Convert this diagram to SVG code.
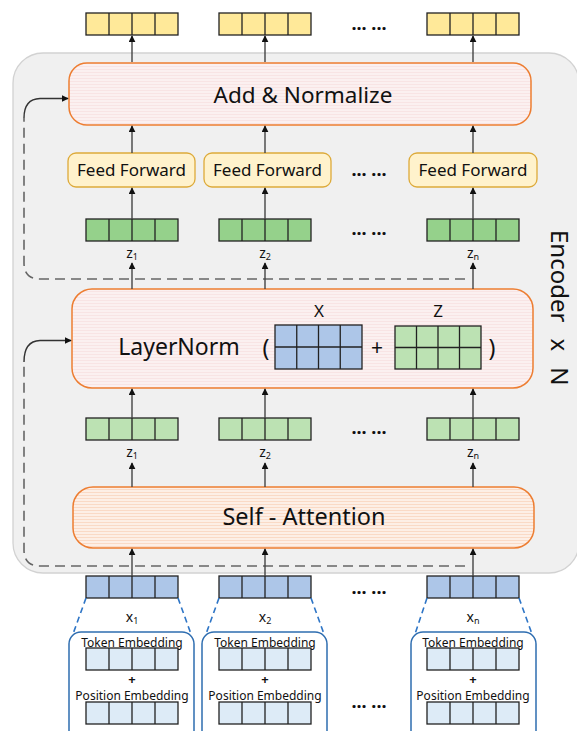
<svg xmlns="http://www.w3.org/2000/svg" width="577" height="731" viewBox="0 0 577 731">
<style>
  text { font-family: "Noto Sans", "Open Sans", "DejaVu Sans", sans-serif; fill: #111; }
  .y { fill: #FFE999; }
  .dg { fill: #95D18B; }
  .lg { fill: #BCE2B3; }
  .bl { fill: #ADC6E8; }
  .lb { fill: #DDEBF7; }
  .cell { stroke: #222; stroke-width: 1.3; }
  .arr { stroke: #444; stroke-width: 1.4; fill: none; marker-end: url(#ah); }
  .dash { stroke: #666; stroke-width: 1.6; fill: none; stroke-dasharray: 10 6; }
  .solid { stroke: #333; stroke-width: 1.4; fill: none; marker-end: url(#ah); }
  .bdash { stroke: #2E75C6; stroke-width: 1.6; fill: none; stroke-dasharray: 6 4; }
  .emb { fill: #fff; stroke: #2E6DB0; stroke-width: 1.5; }
  .ff { fill: #FFF2CC; stroke: #DDAA3A; stroke-width: 1.3; }
  .dots { font-size: 18px; font-weight: bold; text-anchor: middle; }
  .lbl { font-size: 14px; text-anchor: middle; }
  .sub { font-size: 9px; }
  .embt { font-size: 12px; text-anchor: middle; }
  .plus { font-size: 13px; font-weight: bold; text-anchor: middle; }
</style>
<defs>
  <marker id="ah" viewBox="0 0 10 10" refX="9" refY="5" markerWidth="7" markerHeight="7" markerUnits="userSpaceOnUse" orient="auto">
    <path d="M0,0 L10,5 L0,10 z" fill="#111"/>
  </marker>
  <pattern id="pink" width="6" height="3" patternUnits="userSpaceOnUse">
    <rect width="6" height="3" fill="#FBF0F0"/>
    <rect width="6" height="1" fill="#F8E4E4"/>
  </pattern>
  <pattern id="peach" width="6" height="3" patternUnits="userSpaceOnUse">
    <rect width="6" height="3" fill="#FDEFE6"/>
    <rect width="6" height="1" fill="#FADAC6"/>
  </pattern>
  <g id="vec4">
    <rect x="0" y="0" width="92" height="22" class="cell"/>
    <path d="M23,0 V22 M46,0 V22 M69,0 V22" stroke="#222" stroke-width="1.3"/>
  </g>
</defs>

<!-- Encoder background -->
<g id="encoder">
  <rect x="13" y="53" width="566" height="520" rx="30" fill="#F0F0F0" stroke="#D2D2D2" stroke-width="1.3"/>
  <text transform="translate(551,230) rotate(90)" font-size="24">Encoder<tspan dx="16">x</tspan><tspan dx="16">N</tspan></text>
</g>

<!-- Top output vectors -->
<g id="out1"><use href="#vec4" x="86" y="13" class="y"/></g>
<g id="out2"><use href="#vec4" x="219" y="13" class="y"/></g>
<g id="out3"><use href="#vec4" x="427" y="13" class="y"/></g>
<text class="dots" x="369" y="30">... ...</text>

<!-- Add & Normalize -->
<g id="addnorm">
  <rect x="69" y="63" width="462" height="62" rx="18" fill="url(#pink)" stroke="#ED7D31" stroke-width="1.5"/>
  <text x="303" y="103" font-size="22.5" text-anchor="middle">Add &amp; Normalize</text>
</g>

<!-- Feed Forward -->
<g id="ff1"><rect x="68" y="153" width="127" height="34" rx="8" class="ff"/><text x="131.5" y="176" font-size="17" text-anchor="middle">Feed Forward</text></g>
<g id="ff2"><rect x="204" y="153" width="127" height="34" rx="8" class="ff"/><text x="267.5" y="176" font-size="17" text-anchor="middle">Feed Forward</text></g>
<g id="ff3"><rect x="409" y="153" width="128" height="34" rx="8" class="ff"/><text x="473" y="176" font-size="17" text-anchor="middle">Feed Forward</text></g>
<text class="dots" x="369" y="176">... ...</text>

<!-- Z vectors (dark green) -->
<g id="zd1"><use href="#vec4" x="86" y="219" class="dg"/><text class="lbl" x="132" y="258">z<tspan class="sub" dy="2">1</tspan></text></g>
<g id="zd2"><use href="#vec4" x="219" y="219" class="dg"/><text class="lbl" x="265" y="258">z<tspan class="sub" dy="2">2</tspan></text></g>
<g id="zd3"><use href="#vec4" x="427" y="219" class="dg"/><text class="lbl" x="473" y="258">z<tspan class="sub" dy="2">n</tspan></text></g>
<text class="dots" x="369" y="235">... ...</text>

<!-- LayerNorm -->
<g id="layernorm">
  <rect x="72" y="289" width="461" height="99" rx="20" fill="url(#pink)" stroke="#ED7D31" stroke-width="1.5"/>
  <text x="179" y="355" font-size="23" text-anchor="middle">LayerNorm</text>
  <text x="266" y="356" font-size="23" text-anchor="middle">(</text>
  <text x="319" y="317" font-size="17" text-anchor="middle">X</text>
  <rect x="275" y="325" width="87" height="44" class="cell bl"/>
  <path d="M275,347 H362 M296.75,325 V369 M318.5,325 V369 M340.25,325 V369" stroke="#222" stroke-width="1.3"/>
  <text x="377" y="355" font-size="21" text-anchor="middle">+</text>
  <text x="438" y="317" font-size="17" text-anchor="middle">Z</text>
  <rect x="395" y="326" width="86" height="43" class="cell lg"/>
  <path d="M395,347.5 H481 M416.5,326 V369 M438,326 V369 M459.5,326 V369" stroke="#222" stroke-width="1.3"/>
  <text x="492" y="356" font-size="23" text-anchor="middle">)</text>
</g>

<!-- Z vectors (light green) -->
<g id="zl1"><use href="#vec4" x="86" y="418" class="lg"/><text class="lbl" x="132" y="457">z<tspan class="sub" dy="2">1</tspan></text></g>
<g id="zl2"><use href="#vec4" x="219" y="418" class="lg"/><text class="lbl" x="265" y="457">z<tspan class="sub" dy="2">2</tspan></text></g>
<g id="zl3"><use href="#vec4" x="427" y="418" class="lg"/><text class="lbl" x="473" y="457">z<tspan class="sub" dy="2">n</tspan></text></g>
<text class="dots" x="369" y="434">... ...</text>

<!-- Self-Attention -->
<g id="selfattn">
  <rect x="73" y="487" width="461" height="61" rx="20" fill="url(#peach)" stroke="#ED7D31" stroke-width="1.5"/>
  <text x="304" y="525" font-size="23.5" text-anchor="middle">Self - Attention</text>
</g>

<!-- Input vectors -->
<g id="x1"><use href="#vec4" x="86" y="576" class="bl"/><text class="lbl" x="132" y="622" font-size="15">x<tspan class="sub" dy="2">1</tspan></text></g>
<g id="x2"><use href="#vec4" x="219" y="576" class="bl"/><text class="lbl" x="265" y="622" font-size="15">x<tspan class="sub" dy="2">2</tspan></text></g>
<g id="x3"><use href="#vec4" x="427" y="576" class="bl"/><text class="lbl" x="473" y="622" font-size="15">x<tspan class="sub" dy="2">n</tspan></text></g>
<text class="dots" x="369" y="594">... ...</text>

<!-- Embedding boxes -->
<g id="emb1">
  <rect x="69" y="632" width="125" height="112" rx="12" class="emb"/>
  <text class="embt" x="132" y="647">Token Embedding</text>
  <use href="#vec4" x="86" y="648" class="lb"/>
  <text class="plus" x="132" y="684">+</text>
  <text class="embt" x="132" y="700">Position Embedding</text>
  <use href="#vec4" x="86" y="702" class="lb"/>
</g>
<g id="emb2">
  <rect x="202" y="632" width="125" height="112" rx="12" class="emb"/>
  <text class="embt" x="265" y="647">Token Embedding</text>
  <use href="#vec4" x="219" y="648" class="lb"/>
  <text class="plus" x="265" y="684">+</text>
  <text class="embt" x="265" y="700">Position Embedding</text>
  <use href="#vec4" x="219" y="702" class="lb"/>
</g>
<g id="emb3">
  <rect x="411" y="632" width="125" height="112" rx="12" class="emb"/>
  <text class="embt" x="473" y="647">Token Embedding</text>
  <use href="#vec4" x="427" y="648" class="lb"/>
  <text class="plus" x="473" y="684">+</text>
  <text class="embt" x="473" y="700">Position Embedding</text>
  <use href="#vec4" x="427" y="702" class="lb"/>
</g>
<text class="dots" x="369" y="708">... ...</text>

<!-- Connectors -->
<g id="connectors">
  <path class="dash" d="M465,279 H40 Q24,279 24,263 V118"/>
  <path class="solid" d="M24,118 Q24,99 40,98.5 H68"/>
  <path class="dash" d="M465,566 H40 Q24,566 24,550 V362"/>
  <path class="solid" d="M24,362 Q24,341 40,340.5 H71"/>
  <path class="arr" d="M132,62 V36"/>
  <path class="arr" d="M265,62 V36"/>
  <path class="arr" d="M473,62 V36"/>
  <path class="arr" d="M132,153 V126"/>
  <path class="arr" d="M265,153 V126"/>
  <path class="arr" d="M473,153 V126"/>
  <path class="arr" d="M132,219 V188"/>
  <path class="arr" d="M265,219 V188"/>
  <path class="arr" d="M473,219 V188"/>
  <path class="arr" d="M132,289 V263"/>
  <path class="arr" d="M265,289 V263"/>
  <path class="arr" d="M473,289 V263"/>
  <path class="arr" d="M132,418 V389"/>
  <path class="arr" d="M265,418 V389"/>
  <path class="arr" d="M473,418 V389"/>
  <path class="arr" d="M132,487 V463"/>
  <path class="arr" d="M265,487 V463"/>
  <path class="arr" d="M473,487 V463"/>
  <path class="arr" d="M132,576 V549"/>
  <path class="arr" d="M265,576 V549"/>
  <path class="arr" d="M473,576 V549"/>
  <path class="bdash" d="M86,598 L73,634 M178,598 L191,634"/>
  <path class="bdash" d="M219,598 L206,634 M311,598 L324,634"/>
  <path class="bdash" d="M427,598 L415,634 M519,598 L532,634"/>
</g>
</svg>
